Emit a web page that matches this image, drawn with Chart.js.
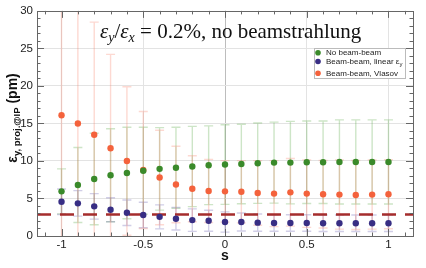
<!DOCTYPE html>
<html>
<head>
<meta charset="utf-8">
<script src="https://cdn.jsdelivr.net/npm/chart.js@4.4.0/dist/chart.umd.min.js"></script>
<style>
  html, body { margin: 0; padding: 0; background: #fff; }
  #wrap { width: 426px; height: 268px; }
</style>
</head>
<body>
<div id="wrap"><canvas id="myChart" width="426" height="268"></canvas></div>
<script>
// s values (x axis)
const sValues = [-1, -0.9, -0.8, -0.7, -0.6, -0.5, -0.4, -0.3, -0.2, -0.1, 0,
                 0.1, 0.2, 0.3, 0.4, 0.5, 0.6, 0.7, 0.8, 0.9, 1];

// No beam-beam
const noBB = [5.95, 6.8, 7.6, 8.1, 8.4, 8.7, 8.95, 9.1, 9.26, 9.43, 9.52,
              9.6, 9.7, 9.78, 9.78, 9.83, 9.83, 9.87, 9.87, 9.87, 9.87];
const noBBErr = [3.0, 5.0, 6.1, 6.2, 6.1, 5.8, 5.5, 5.4, 5.35, 5.25, 5.3,
                 5.3, 5.35, 5.4, 5.5, 5.5, 5.5, 5.6, 5.6, 5.6, 5.6];

// Beam-beam, linear eps_y
const linBB = [4.56, 4.35, 3.95, 3.5, 3.1, 2.8, 2.55, 2.3, 2.12, 2.04, 1.86,
               1.86, 1.78, 1.73, 1.73, 1.73, 1.7, 1.7, 1.7, 1.7, 1.7];
const linBBErr = [1.7, 1.7, 1.7, 1.6, 1.7, 1.7, 1.6, 1.5, 1.5, 1.4, 1.35,
                  1.2, 1.15, 1.1, 1.1, 1.1, 1.1, 1.1, 1.1, 1.1, 1.1];

// Beam-beam, Vlasov
const vlasov = [16.1, 15.0, 13.5, 11.7, 10.0, 8.8, 7.8, 6.87, 6.3, 6.0, 5.95,
                5.9, 5.74, 5.65, 5.82, 5.65, 5.56, 5.52, 5.47, 5.52, 5.56];
const vlasovErr = [16.5, 16.5, 15.0, 12.5, 9.9, 7.8, 6.3, 5.1, 4.4, 4.2, 4.1,
                   4.15, 4.3, 4.4, 4.5, 4.5, 4.5, 4.6, 4.6, 4.6, 4.6];

// dashed reference level
const refLevel = 2.86;

const seriesLabels = ['No beam-beam', 'Beam-beam, linear \u03b5', 'Beam-beam, Vlasov'];
const xTicks = [-1, -0.5, 0, 0.5, 1];
const yTicks = [0, 5, 10, 15, 20, 25, 30];
const xMin = -1.15, xMax = 1.15;

const colGreen = 'rgb(58,138,42)';
const colBlue = 'rgb(56,46,132)';
const colRed = 'rgb(244,98,60)';

function pts(vals) {
    return sValues.map((s, i) => ({ x: s, y: vals[i] }));
}

// error bars, drawn through the scales
const errorBars = {
    id: 'errorBars',
    beforeDatasetsDraw(chart) {
        const ctx = chart.ctx;
        const xs = chart.scales.x, ys = chart.scales.y;
        const a = chart.chartArea;
        ctx.save();
        ctx.beginPath();
        ctx.rect(a.left, a.top, a.right - a.left, a.bottom - a.top);
        ctx.clip();
        chart.data.datasets.forEach(ds => {
            if (!ds.errors) return;
            ctx.strokeStyle = ds.errColor;
            ctx.lineWidth = 1.4;
            ds.data.forEach((p, i) => {
                const x = xs.getPixelForValue(p.x);
                const y1 = ys.getPixelForValue(p.y + ds.errors[i]);
                const y2 = ys.getPixelForValue(p.y - ds.errors[i]);
                ctx.beginPath();
                ctx.moveTo(x, y1); ctx.lineTo(x, y2);
                ctx.moveTo(x - 4.5, y1); ctx.lineTo(x + 4.5, y1);
                ctx.moveTo(x - 4.5, y2); ctx.lineTo(x + 4.5, y2);
                ctx.stroke();
            });
        });
        ctx.restore();
    }
};

// frame, minor ticks, titles, legend
const decorations = {
    id: 'decorations',
    afterDraw(chart) {
        const ctx = chart.ctx;
        const xs = chart.scales.x, ys = chart.scales.y;
        const a = chart.chartArea;
        ctx.save();
        ctx.strokeStyle = '#666';
        ctx.lineWidth = 1;
        ctx.strokeRect(Math.round(a.left) + 0.5, Math.round(a.top) + 0.5,
                       Math.round(a.right - a.left), Math.round(a.bottom - a.top));
        ctx.beginPath();
        for (let k = -11; k <= 11; k++) {
            const v = k / 10;
            const x = Math.round(xs.getPixelForValue(v)) + 0.5;
            const len = (k % 5 === 0) ? 7 : 3.5;
            ctx.moveTo(x, a.bottom); ctx.lineTo(x, a.bottom - len);
            ctx.moveTo(x, a.top); ctx.lineTo(x, a.top + len);
        }
        for (let v = 1; v < 30; v++) {
            const y = Math.round(ys.getPixelForValue(v)) + 0.5;
            const len = (v % 5 === 0) ? 7 : 3.5;
            ctx.moveTo(a.left, y); ctx.lineTo(a.left + len, y);
            ctx.moveTo(a.right, y); ctx.lineTo(a.right - len, y);
        }
        ctx.stroke();

        // x title
        ctx.fillStyle = '#111';
        ctx.font = 'bold 14px "Liberation Sans", Arial, sans-serif';
        ctx.textAlign = 'center';
        ctx.textBaseline = 'middle';
        ctx.fillText('s', (a.left + a.right) / 2, 256);

        // y title, rotated
        ctx.save();
        ctx.translate(12, 118);
        ctx.rotate(-Math.PI / 2);
        ctx.textAlign = 'left';
        ctx.textBaseline = 'alphabetic';
        const f1 = 'bold 14px "Liberation Sans", Arial, sans-serif';
        const f2 = 'bold 9.5px "Liberation Sans", Arial, sans-serif';
        const parts = [['\u03b5', f1, 0], ['y, proj.@IP', f2, 3], [' (pm)', f1, 0]];
        let w = 0;
        parts.forEach(p => { ctx.font = p[1]; w += ctx.measureText(p[0]).width; });
        let tx = -w / 2;
        parts.forEach(p => {
            ctx.font = p[1];
            ctx.fillText(p[0], tx, 5 + p[2]);
            tx += ctx.measureText(p[0]).width;
        });
        ctx.restore();

        // title inside plot
        const serif = '"Liberation Serif", "DejaVu Serif", serif';
        const tParts = [
            ['\u03b5', 'italic 21px ' + serif, 0],
            ['y', 'italic 14px ' + serif, 4],
            ['/', '21px ' + serif, 0],
            ['\u03b5', 'italic 21px ' + serif, 0],
            ['x', 'italic 14px ' + serif, 4],
            [' = 0.2%, no beamstrahlung', '21px ' + serif, 0]
        ];
        ctx.fillStyle = '#111';
        ctx.textAlign = 'left';
        ctx.textBaseline = 'alphabetic';
        let px = 100;
        tParts.forEach(p => {
            ctx.font = p[1];
            ctx.fillText(p[0], px, 38 + p[2]);
            px += ctx.measureText(p[0]).width;
        });

        // legend
        ctx.fillStyle = '#fff';
        ctx.fillRect(314, 48, 92, 30);
        ctx.strokeStyle = '#bbb';
        ctx.strokeRect(314.5, 48.5, 91, 30);
        const ly = [52.7, 61.5, 73.3];
        const lc = [colGreen, colBlue, colRed];
        ctx.font = '8px "Liberation Sans", Arial, sans-serif';
        ctx.textBaseline = 'middle';
        seriesLabels.forEach((lab, i) => {
            ctx.fillStyle = lc[i];
            ctx.beginPath();
            ctx.arc(318, ly[i], 2.8, 0, Math.PI * 2);
            ctx.fill();
            ctx.fillStyle = '#222';
            ctx.fillText(lab, 326, ly[i]);
            if (i === 1) {
                const lw = ctx.measureText(lab).width;
                ctx.font = '6px "Liberation Sans", Arial, sans-serif';
                ctx.fillText('y', 326 + lw, ly[i] + 3);
                ctx.font = '8px "Liberation Sans", Arial, sans-serif';
            }
        });
        ctx.restore();
    }
};

new Chart('myChart', {
    type: 'scatter',
    data: {
        datasets: [
            {
                label: seriesLabels[0],
                data: pts(noBB),
                errors: noBBErr,
                errColor: 'rgba(90,170,70,0.3)',
                pointBackgroundColor: colGreen,
                pointBorderWidth: 0,
                pointRadius: 3.2
            },
            {
                label: seriesLabels[1],
                data: pts(linBB),
                errors: linBBErr,
                errColor: 'rgba(90,80,170,0.28)',
                pointBackgroundColor: colBlue,
                pointBorderWidth: 0,
                pointRadius: 3.2
            },
            {
                label: seriesLabels[2],
                data: pts(vlasov),
                errors: vlasovErr,
                errColor: 'rgba(248,120,95,0.28)',
                pointBackgroundColor: colRed,
                pointBorderWidth: 0,
                pointRadius: 3.2
            },
            {
                label: 'ref',
                data: [{ x: xMin, y: refLevel }, { x: xMax, y: refLevel }],
                showLine: true,
                borderColor: 'rgb(165,45,45)',
                borderWidth: 2.5,
                borderDash: [14, 9],
                pointRadius: 0
            }
        ]
    },
    options: {
        responsive: false,
        animation: false,
        devicePixelRatio: 1,
        layout: { padding: { top: 6, right: 13, left: 0, bottom: 0 } },
        plugins: {
            legend: { display: false },
            tooltip: { enabled: false }
        },
        scales: {
            x: {
                type: 'linear',
                min: xMin,
                max: xMax,
                afterBuildTicks: s => { s.ticks = xTicks.map(v => ({ value: v })); },
                afterFit: s => { s.height = 32; },
                border: { display: false },
                grid: {
                    drawTicks: false,
                    color: c => (c.tick && c.tick.value === 0) ? '#bdbdbd' : '#e3e3e3'
                },
                ticks: {
                    padding: 2,
                    color: '#222',
                    font: { family: '"Liberation Sans", Arial, sans-serif', size: 11.5 },
                    callback: v => String(v)
                }
            },
            y: {
                type: 'linear',
                min: 0,
                max: 30,
                afterBuildTicks: s => { s.ticks = yTicks.map(v => ({ value: v })); },
                afterFit: s => { s.width = 37; },
                border: { display: false },
                grid: {
                    drawTicks: false,
                    color: c => (c.tick && (c.tick.value === 0 || c.tick.value === 30)) ? 'rgba(0,0,0,0)' : '#e3e3e3'
                },
                ticks: {
                    padding: 4,
                    color: '#222',
                    font: { family: '"Liberation Sans", Arial, sans-serif', size: 11.5 }
                }
            }
        }
    },
    plugins: [errorBars, decorations]
});
</script>
</body>
</html>
